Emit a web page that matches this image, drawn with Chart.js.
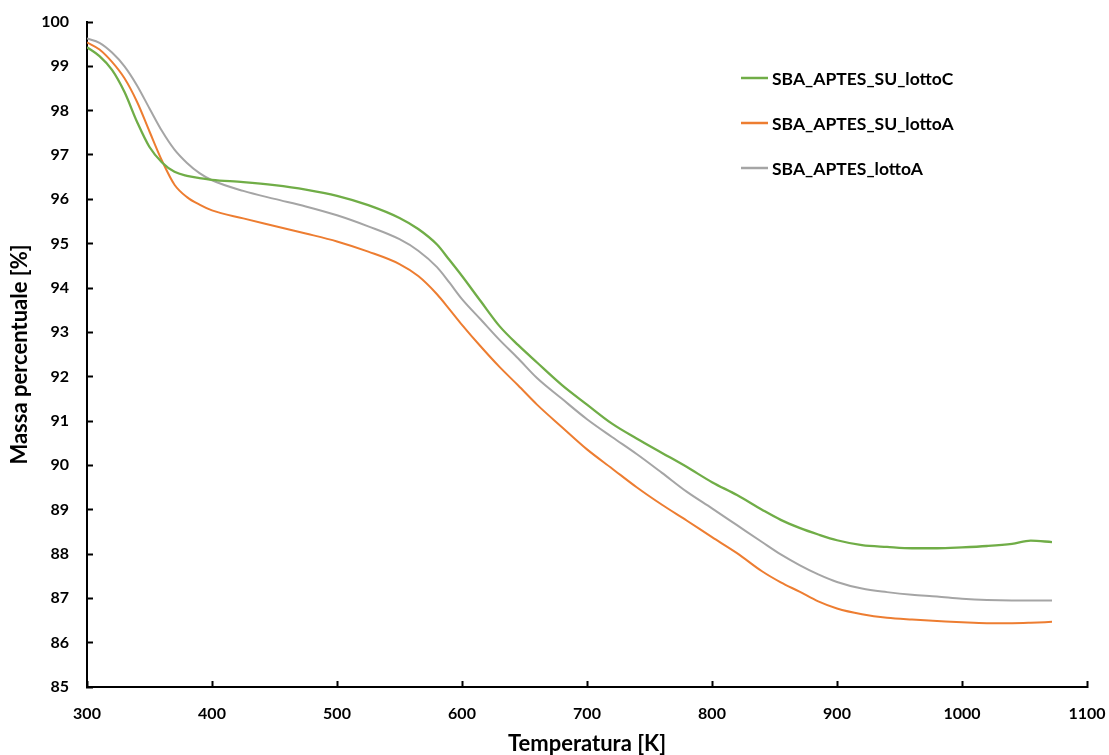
<!DOCTYPE html>
<html>
<head>
<meta charset="utf-8">
<script src="https://cdn.jsdelivr.net/npm/chart.js@4.4.0/dist/chart.umd.min.js"></script>
<style>
  html, body { margin: 0; background: #fff; }
  #tga { display: block; }
</style>
</head>
<body>
<canvas id="tga" width="1109" height="755"></canvas>
<script>
// TGA curves: mass % vs temperature (K)
const temperature = [300, 310, 320, 330, 340, 350, 360, 370, 380, 390, 400, 425, 450, 475, 500, 525, 550, 565, 580, 590, 600, 615, 630, 645, 660, 680, 700, 720, 740, 760, 780, 800, 820, 840, 855, 870, 885, 900, 920, 940, 960, 980, 1000, 1020, 1040, 1055, 1072];

const suLottoC = [99.43, 99.23, 98.92, 98.42, 97.75, 97.18, 96.83, 96.62, 96.53, 96.48, 96.44, 96.39, 96.32, 96.22, 96.08, 95.87, 95.58, 95.33, 94.98, 94.63, 94.27, 93.70, 93.14, 92.71, 92.32, 91.81, 91.37, 90.94, 90.60, 90.28, 89.96, 89.62, 89.33, 89.00, 88.77, 88.59, 88.44, 88.31, 88.20, 88.16, 88.13, 88.13, 88.15, 88.18, 88.23, 88.30, 88.27];

const suLottoA = [99.54, 99.38, 99.10, 98.73, 98.20, 97.53, 96.87, 96.33, 96.05, 95.88, 95.75, 95.57, 95.40, 95.23, 95.05, 94.82, 94.54, 94.27, 93.86, 93.52, 93.17, 92.68, 92.22, 91.80, 91.37, 90.86, 90.36, 89.93, 89.50, 89.11, 88.75, 88.38, 88.02, 87.61, 87.36, 87.15, 86.93, 86.77, 86.64, 86.56, 86.52, 86.49, 86.46, 86.44, 86.44, 86.45, 86.47];

const lottoA = [99.63, 99.53, 99.31, 99.00, 98.57, 98.05, 97.54, 97.12, 96.82, 96.59, 96.43, 96.19, 96.01, 95.84, 95.64, 95.39, 95.10, 94.84, 94.47, 94.12, 93.75, 93.29, 92.83, 92.41, 91.97, 91.50, 91.04, 90.64, 90.25, 89.83, 89.40, 89.03, 88.65, 88.27, 87.99, 87.75, 87.54, 87.37, 87.22, 87.14, 87.08, 87.04, 86.99, 86.96, 86.95, 86.95, 86.95];

const seriesNames = ['SBA_APTES_SU_lottoC', 'SBA_APTES_SU_lottoA', 'SBA_APTES_lottoA'];
const seriesColors = ['#70AD47', '#ED7D31', '#A5A5A5'];
const seriesValues = [suLottoC, suLottoA, lottoA];

const xTicks = { min: 300, max: 1100, step: 100 };
const yTicks = { min: 85, max: 100, step: 1 };

const FONT = 'Lato, "Liberation Sans", sans-serif';

const toPoints = (vals) => vals.map((v, i) => ({ x: temperature[i], y: v }));

// legend sitting inside the plot, top right
const innerLegend = {
  id: 'innerLegend',
  afterDraw(chart) {
    const { ctx, chartArea } = chart;
    const x0 = chartArea.left + 654;
    const y0 = chartArea.top + 56;
    ctx.save();
    ctx.font = `bold 17.5px ${FONT}`;
    ctx.textBaseline = 'middle';
    ctx.fillStyle = '#000';
    chart.data.datasets.forEach((ds, i) => {
      const y = y0 + i * 45;
      ctx.strokeStyle = ds.borderColor;
      ctx.lineWidth = 2.5;
      ctx.beginPath();
      ctx.moveTo(x0, y);
      ctx.lineTo(x0 + 27, y);
      ctx.stroke();
      ctx.fillText(ds.label, x0 + 31, y + 1);
    });
    ctx.restore();
  }
};

const axisCommon = {
  type: 'linear',
  grid: {
    drawOnChartArea: false,
    drawTicks: true,
    tickLength: -6,
    tickColor: '#000',
    tickWidth: 2
  },
  border: { color: '#000', width: 2 }
};

const tickFont = { family: FONT, size: 16, weight: 'bold' };
const titleFont = { family: FONT, size: 22, weight: 'bold' };

new Chart(document.getElementById('tga'), {
  type: 'line',
  data: {
    datasets: seriesNames.map((name, i) => ({
      label: name,
      data: toPoints(seriesValues[i]),
      borderColor: seriesColors[i],
      borderWidth: i === 0 ? 2.3 : 2,
      pointRadius: 0,
      fill: false,
      cubicInterpolationMode: 'monotone'
    }))
  },
  options: {
    responsive: false,
    animation: false,
    layout: { padding: { top: 22, right: 22, left: 0, bottom: 0 } },
    plugins: { legend: { display: false }, tooltip: { enabled: false } },
    scales: {
      x: {
        ...axisCommon,
        position: 'bottom',
        min: xTicks.min,
        max: xTicks.max,
        ticks: { stepSize: xTicks.step, color: '#000', padding: 23, font: tickFont, callback: (v) => String(v) },
        title: { display: true, text: 'Temperatura [K]', color: '#000', padding: { top: 0, bottom: -2 }, font: titleFont },
        // fixed axis band; edge labels may overhang
        afterFit: (s) => { s.height = 68; s.paddingLeft = 0; s.paddingRight = 0; }
      },
      y: {
        ...axisCommon,
        position: 'left',
        min: yTicks.min,
        max: yTicks.max,
        ticks: { stepSize: yTicks.step, color: '#000', padding: 24, font: tickFont, callback: (v) => String(v) },
        title: { display: true, text: 'Massa percentuale [%]', color: '#000', padding: { top: 7, bottom: 0 }, font: titleFont },
        afterFit: (s) => { s.width = 87; s.paddingTop = 0; s.paddingBottom = 0; }
      }
    }
  },
  plugins: [innerLegend]
});
</script>
</body>
</html>
